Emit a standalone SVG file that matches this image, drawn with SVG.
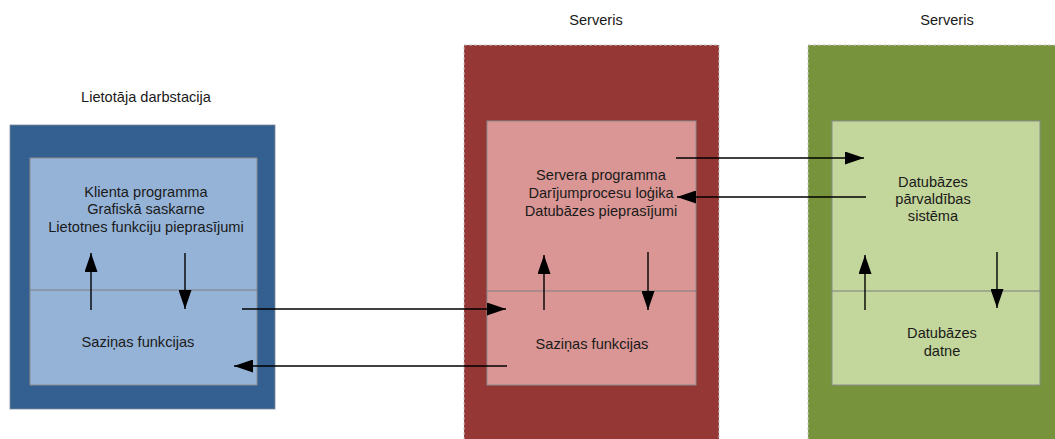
<svg xmlns="http://www.w3.org/2000/svg" width="1055" height="439" viewBox="0 0 1055 439">
<style>
text{font-family:"Liberation Sans",Arial,sans-serif;font-size:14.6px;fill:#1a1a1a;text-anchor:middle}
.inner{stroke:#8c8c8c;stroke-width:1}
.div{stroke:#7f7f7f;stroke-width:1}
.dash{stroke:#c8c8c8;stroke-width:1;stroke-dasharray:3,2}
.c{stroke:#000;stroke-width:1.4;fill:none;marker-end:url(#ah)}
</style>
<defs>
<marker id="ah" viewBox="0 0 19 13" refX="19" refY="6.5" markerWidth="19" markerHeight="13" markerUnits="userSpaceOnUse" orient="auto">
<path d="M0,0 L19,6.5 L0,13 Z" fill="#000"/>
</marker>
</defs>
<rect width="1055" height="439" fill="#fff"/>
<g id="client">
<text x="146" y="102">Lietotāja darbstacija</text>
<rect x="10" y="125" width="265" height="284" fill="#345f91" stroke="#7a8a9a" stroke-width="0.8"/>
<rect class="inner" x="30" y="158" width="227" height="227" fill="#95b3d7"/>
<line class="div" x1="30" y1="290" x2="257" y2="290"/>
<text x="146" y="197">Klienta programma</text>
<text x="146" y="214">Grafiskā saskarne</text>
<text x="146" y="232">Lietotnes funkciju pieprasījumi</text>
<text x="138" y="347">Saziņas funkcijas</text>
</g>
<g id="server1">
<text x="596" y="25">Serveris</text>
<rect x="464" y="45" width="255" height="400" fill="#953735"/>
<path class="dash" d="M464,445 V45 H719 V445" fill="none"/>
<rect class="inner" x="487" y="121" width="209" height="264" fill="#d99694"/>
<line class="div" x1="487" y1="291" x2="696" y2="291"/>
<text x="601" y="180">Servera programma</text>
<text x="601" y="198">Darījumprocesu loģika</text>
<text x="601" y="216">Datubāzes pieprasījumi</text>
<text x="592" y="349">Saziņas funkcijas</text>
</g>
<g id="server2">
<text x="947" y="25">Serveris</text>
<rect x="808" y="45" width="260" height="400" fill="#77933c"/>
<path class="dash" d="M808,445 V45 H1060" fill="none"/>
<rect class="inner" x="832" y="121" width="208" height="264" fill="#c3d69b"/>
<line class="div" x1="832" y1="291" x2="1040" y2="291"/>
<text x="933" y="187">Datubāzes</text>
<text x="933" y="204">pārvaldības</text>
<text x="933" y="221">sistēma</text>
<text x="942" y="338">Datubāzes</text>
<text x="942" y="356">datne</text>
</g>
<g id="connectors">
<line class="c" x1="91" y1="310" x2="91" y2="253"/>
<line class="c" x1="185" y1="253" x2="185" y2="309"/>
<line class="c" x1="544" y1="310" x2="544" y2="255"/>
<line class="c" x1="648" y1="252" x2="648" y2="310"/>
<line class="c" x1="865" y1="310" x2="865" y2="255"/>
<line class="c" x1="997" y1="252" x2="997" y2="308"/>
<line class="c" x1="242" y1="309" x2="506" y2="309"/>
<line class="c" x1="507" y1="366" x2="234" y2="366"/>
<line class="c" x1="676" y1="158" x2="864" y2="158"/>
<line class="c" x1="866" y1="197" x2="677" y2="197"/>
</g>
</svg>
